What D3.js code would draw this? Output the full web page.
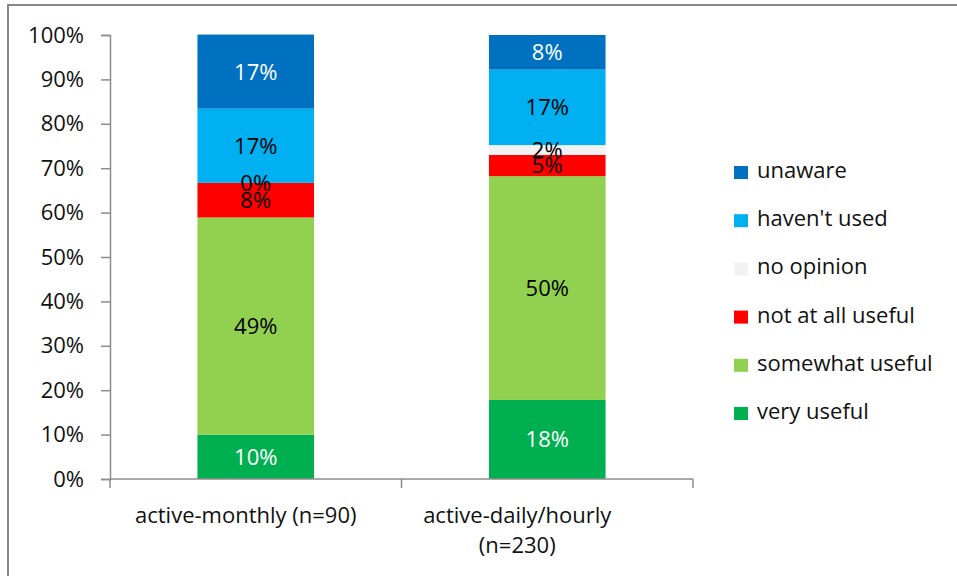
<!DOCTYPE html>
<html>
<head>
<meta charset="utf-8">
<script src="https://cdn.jsdelivr.net/npm/d3@7"></script>
<style>
  body { margin: 0; background: #fff; }
  text { font-family: "Open Sans", sans-serif; }
</style>
</head>
<body>
<div id="chart"></div>
<script>

// categories (bars) and series (stack order bottom -> top)
const categories = ['active-monthly (n=90)', 'active-daily/hourly (n=230)'];
const categoryLines = [['active-monthly (n=90)'], ['active-daily/hourly', '(n=230)']];
const series = ['very useful', 'somewhat useful', 'not at all useful', 'no opinion', "haven't used", 'unaware'];

// percent values per series, one per category
const veryUseful = [10.0, 17.8];
const somewhatUseful = [48.9, 50.4];
const notAtAllUseful = [7.8, 4.8];
const noOpinion = [0.0, 2.2];
const haventUsed = [16.7, 17.0];
const unaware = [16.7, 7.8];

const yTicks = [0, 10, 20, 30, 40, 50, 60, 70, 80, 90, 100];

const colors = ['#00b050', '#92d050', '#ff0000', '#f2f2f2', '#00b0f0', '#0070c0'];
const labelColors = ['#fff', '#000', '#000', '#000', '#000', '#fff'];

const seriesValues = [veryUseful, somewhatUseful, notAtAllUseful, noOpinion, haventUsed, unaware];

// table for d3.stack
let table = categories.map((c, i) => {
    let row = { cat: c };
    series.forEach((s, j) => row[s] = seriesValues[j][i]);
    return row;
});

let dimensions = { width: 957, height: 576 };
let plot = { left: 110, right: 693, top: 35, bottom: 479 };

let svg = d3.select('#chart').append('svg')
    .attr('width', dimensions.width)
    .attr('height', dimensions.height);

// outer frame
svg.append('rect')
    .attr('x', 8).attr('y', 5)
    .attr('width', 1000).attr('height', 700)
    .attr('fill', 'none')
    .attr('stroke', '#878787')
    .attr('stroke-width', 2);

let xScale = d3.scaleBand()
    .domain(categories)
    .range([plot.left, plot.right])
    .paddingInner(0.6)
    .paddingOuter(0.3);

let yScale = d3.scaleLinear()
    .domain([0, 100])
    .range([plot.bottom, plot.top]);

let stacked = d3.stack().keys(series)(table);

let bounds = svg.append('g');

// bars
let layers = bounds.selectAll('g.layer')
    .data(stacked)
    .join('g')
    .attr('class', 'layer')
    .attr('fill', (d, i) => colors[i]);

layers.selectAll('rect')
    .data(d => d)
    .join('rect')
    .attr('x', d => xScale(d.data.cat))
    .attr('width', xScale.bandwidth())
    .attr('y', d => yScale(d[1]))
    .attr('height', d => yScale(d[0]) - yScale(d[1]));

// data labels
stacked.forEach((layer, i) => {
    bounds.append('g')
        .selectAll('text')
        .data(layer)
        .join('text')
        .attr('x', d => xScale(d.data.cat) + xScale.bandwidth() / 2)
        .attr('y', d => yScale((d[0] + d[1]) / 2))
        .attr('dy', '0.36em')
        .attr('text-anchor', 'middle')
        .style('font-size', '22px')
        .style('fill', labelColors[i])
        .text(d => Math.round(d[1] - d[0]) + '%');
});

// y axis
let yAxis = d3.axisLeft(yScale)
    .tickValues(yTicks)
    .tickFormat(d => d + '%')
    .tickSize(9)
    .tickPadding(17);

let yG = svg.append('g')
    .attr('transform', `translate(${plot.left},0)`)
    .call(yAxis);
yG.select('.domain').attr('stroke', '#8c8c8c').attr('stroke-width', 1.5);
yG.selectAll('.tick line').attr('stroke', '#8c8c8c').attr('stroke-width', 1.5);
yG.selectAll('.tick text')
    .style('font-size', '22px')
    .style('font-family', '"Open Sans", sans-serif')
    .style('fill', '#111');

// x axis
let xG = svg.append('g')
    .attr('transform', `translate(0,${plot.bottom})`);
xG.append('line')
    .attr('x1', plot.left).attr('x2', plot.right)
    .attr('stroke', '#8c8c8c').attr('stroke-width', 1.5);

let boundaries = [plot.left].concat(categories.map(c => xScale(c) + xScale.bandwidth() / 2 + xScale.step() / 2));
xG.selectAll('line.tick')
    .data(boundaries)
    .join('line')
    .attr('class', 'tick')
    .attr('x1', d => d).attr('x2', d => d)
    .attr('y1', 0).attr('y2', 9)
    .attr('stroke', '#8c8c8c').attr('stroke-width', 1.5);

// category labels (Excel shifts wrapped labels a bit to the left)
const labelShift = [-10, -30];
categories.forEach((c, i) => {
    let t = xG.append('text')
        .attr('text-anchor', 'middle')
        .style('font-size', '22px')
        .style('fill', '#111');
    categoryLines[i].forEach((line, k) => {
        t.append('tspan')
            .attr('x', xScale(c) + xScale.bandwidth() / 2 + labelShift[i])
            .attr('y', 44 + k * 30)
            .text(line);
    });
});

// legend (top -> bottom is reverse of stack)
let legend = svg.append('g')
    .attr('transform', 'translate(734,166)');

let legendItems = legend.selectAll('g')
    .data(series.slice().reverse())
    .join('g')
    .attr('transform', (d, i) => `translate(0,${i * 48.2})`);

legendItems.append('rect')
    .attr('width', 14)
    .attr('height', 13)
    .attr('fill', d => colors[series.indexOf(d)]);

legendItems.append('text')
    .attr('x', 23)
    .attr('y', 12)
    .style('font-size', '22px')
    .style('fill', '#111')
    .text(d => d);

</script>
</body>
</html>
